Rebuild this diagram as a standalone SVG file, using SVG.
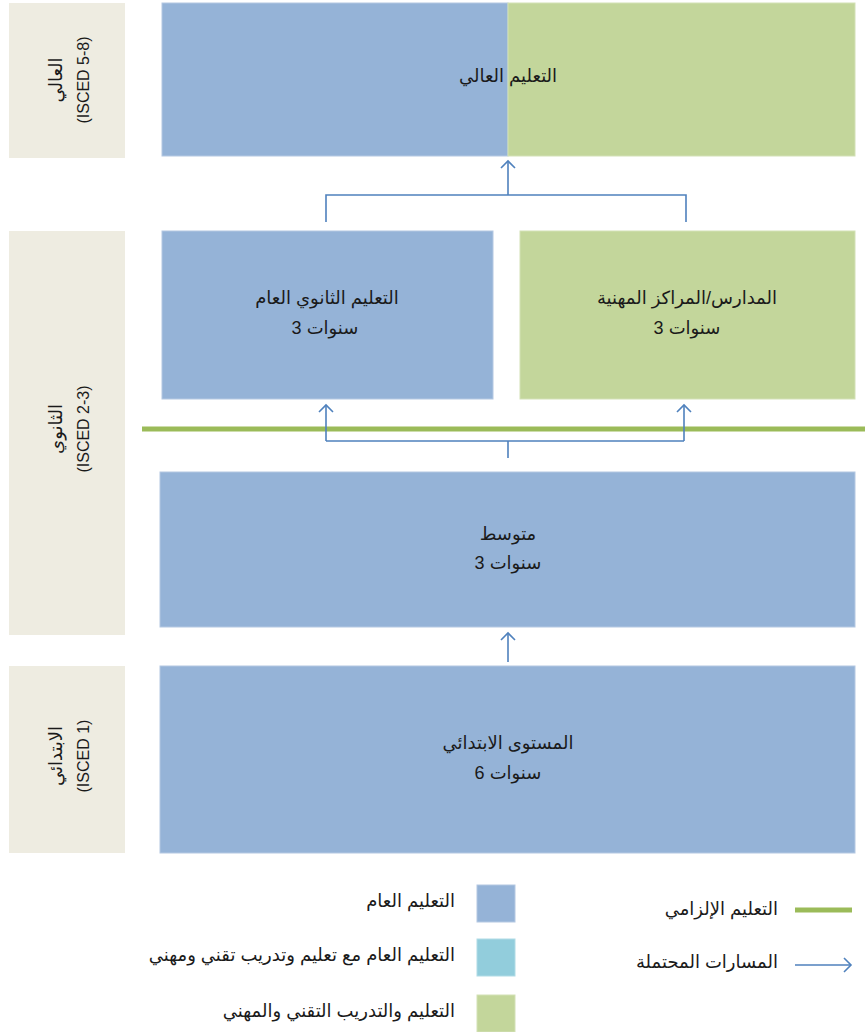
<svg xmlns="http://www.w3.org/2000/svg" width="865" height="1032" viewBox="0 0 865 1032">
<style>
.side{fill:#EEECE1}
.gen{fill:#95B3D7;stroke:#B4C8E2;stroke-width:1}
.voc{fill:#C3D69B;stroke:#D3E1B6;stroke-width:1}
.mix{fill:#92CDDC;stroke:#B0DBE6;stroke-width:1}
text{font-family:"Liberation Sans","DejaVu Sans",sans-serif;font-size:18px;fill:#1a1a1a}
.lat{font-size:16px}
.c{text-anchor:middle}
.e{text-anchor:end}
.conn{fill:none;stroke:#4F81BD;stroke-width:1.6}
.comp{stroke:#9BBB59;stroke-width:5}
</style>
<defs>
<marker id="ah" markerWidth="16" markerHeight="16" refX="8" refY="8" orient="auto" markerUnits="userSpaceOnUse">
<path d="M1,1 L8,8 L1,15" fill="none" stroke="#4F81BD" stroke-width="1.6"/>
</marker>
</defs>
<g id="label-higher">
<rect class="side" x="9" y="3" width="116" height="155"/>
<text class="c" transform="translate(57,80) rotate(-90)" y="5">العالي</text>
<text class="c lat" transform="translate(83,80) rotate(-90)" y="6">(ISCED 5-8)</text>
</g>
<g id="label-secondary">
<rect class="side" x="9" y="231" width="116" height="404"/>
<text class="c" transform="translate(57,429) rotate(-90)" y="5">الثانوي</text>
<text class="c lat" transform="translate(83,429) rotate(-90)" y="6">(ISCED 2-3)</text>
</g>
<g id="label-primary">
<rect class="side" x="9" y="666" width="116" height="187"/>
<text class="c" transform="translate(57,756) rotate(-90)" y="5">الابتدائي</text>
<text class="c lat" transform="translate(83,756) rotate(-90)" y="6">(ISCED 1)</text>
</g>
<g id="higher">
<rect class="gen" x="162" y="3" width="346" height="153"/>
<rect class="voc" x="508" y="3" width="347" height="153"/>
<text class="c" x="508" y="82">التعليم العالي</text>
</g>
<g id="sec-general">
<rect class="gen" x="162" y="231" width="331" height="168"/>
<text class="c" x="327" y="304">التعليم الثانوي العام</text>
<text class="c" x="325" y="334">سنوات 3</text>
</g>
<g id="sec-vocational">
<rect class="voc" x="520" y="231" width="335" height="168"/>
<text class="c" x="687" y="304">المدارس/المراكز المهنية</text>
<text class="c" x="687" y="334">سنوات 3</text>
</g>
<g id="lower-secondary">
<rect class="gen" x="160" y="472" width="695" height="155"/>
<text class="c" x="508" y="540">متوسط</text>
<text class="c" x="508" y="569">سنوات 3</text>
</g>
<g id="primary">
<rect class="gen" x="160" y="666" width="695" height="187"/>
<text class="c" x="508" y="749">المستوى الابتدائي</text>
<text class="c" x="508" y="779">سنوات 6</text>
</g>
<g id="compulsory-line">
<line class="comp" x1="142" y1="429" x2="865" y2="429"/>
</g>
<g id="connectors">
<path class="conn" d="M508,458 V441 M326,441 H684"/>
<path class="conn" d="M326,441 V405" marker-end="url(#ah)"/>
<path class="conn" d="M684,441 V405" marker-end="url(#ah)"/>
<path class="conn" d="M326,222 V195 H686 V222"/>
<path class="conn" d="M508,195 V161" marker-end="url(#ah)"/>
<path class="conn" d="M508,662 V633" marker-end="url(#ah)"/>
</g>
<g id="legend">
<rect class="gen" x="477" y="885" width="38" height="37"/>
<text class="e" x="455" y="907">التعليم العام</text>
<rect class="mix" x="477" y="939" width="38" height="37"/>
<text class="e" x="455" y="961">التعليم العام مع تعليم وتدريب تقني ومهني</text>
<rect class="voc" x="477" y="995" width="38" height="37"/>
<text class="e" x="455" y="1017">التعليم والتدريب التقني والمهني</text>
<line class="comp" x1="795" y1="910" x2="852" y2="910"/>
<text class="e" x="778" y="915">التعليم الإلزامي</text>
<path class="conn" d="M795,965 H851" marker-end="url(#ah)"/>
<text class="e" x="778" y="968">المسارات المحتملة</text>
</g>
</svg>
